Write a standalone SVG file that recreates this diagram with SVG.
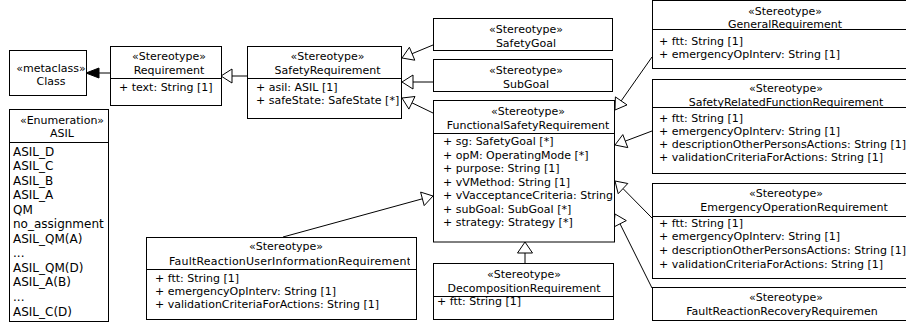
<svg xmlns="http://www.w3.org/2000/svg" width="906" height="324" viewBox="0 0 906 324">
<style>
text{font-family:"DejaVu Sans","Liberation Sans",sans-serif;font-size:11px;fill:#000}
.c{text-anchor:middle}
.lit{font-size:12px}
.box{fill:#fff;stroke:#000;stroke-width:1}
.sep{stroke:#000;stroke-width:1}
.ln{stroke:#000;stroke-width:1;fill:none}
.tri{fill:#fff;stroke:#000;stroke-width:1}
.fill{fill:#000;stroke:#000;stroke-width:1}
</style>
<defs>
<clipPath id="clipFRUIR"><rect x="146" y="237" width="264" height="33"/></clipPath>
</defs>
<rect x="0" y="0" width="906" height="324" fill="#fff"/>

<g id="connectors">
<line class="ln" x1="110" y1="73" x2="99" y2="73" stroke-width="2"/>
<polygon class="fill" points="86,73 99,68 99,78"/>
<line class="ln" x1="247" y1="76" x2="232" y2="76"/>
<polygon class="tri" points="221,76 232,69 232,83"/>
<line class="ln" x1="433" y1="45" x2="412.1" y2="53.7"/>
<polygon class="tri" points="402,58 414.8,60.2 409.4,47.3"/>
<line class="ln" x1="433" y1="82" x2="413" y2="82"/>
<polygon class="tri" points="402,82 413,75 413,89"/>
<line class="ln" x1="433" y1="113" x2="411.9" y2="102.8"/>
<polygon class="tri" points="402,98 408.9,109.1 415,96.5"/>
<line class="ln" x1="652" y1="57" x2="621.2" y2="100.9"/>
<polygon class="tri" points="615,110 627,104.9 615.4,96.9"/>
<line class="ln" x1="652" y1="131" x2="625.3" y2="141.1"/>
<polygon class="tri" points="615,145 627.8,147.6 622.8,134.6"/>
<line class="ln" x1="652" y1="218" x2="623" y2="188.6"/>
<polygon class="tri" points="615,181 618.2,193.7 627.8,183.5"/>
<line class="ln" x1="652" y1="288" x2="620" y2="223.8"/>
<polygon class="tri" points="615,214 613.8,227 626.3,220.6"/>
<line class="ln" x1="283" y1="237" x2="422.4" y2="198.8"/>
<polygon class="tri" points="433,196 420.6,192.1 424.2,205.6"/>
<line class="ln" x1="525" y1="263" x2="525" y2="253"/>
<polygon class="tri" points="525,242 517.5,253 532.5,253"/>
</g>

<g id="Class">
<rect class="box" x="9.5" y="50.5" width="77" height="45"/>
<text class="c" x="51" y="71.5">«metaclass»</text>
<text class="c" x="51" y="85">Class</text>
</g>

<g id="Requirement">
<rect class="box" x="110.5" y="46.5" width="111" height="59"/>
<line class="sep" x1="110.5" y1="78.5" x2="221.5" y2="78.5"/>
<text class="c" x="169" y="59.5">«Stereotype»</text>
<text class="c" x="169" y="73.5">Requirement</text>
<text x="119" y="91">+ text: String [1]</text>
</g>

<g id="ASIL">
<rect class="box" x="9.5" y="109.5" width="99" height="212"/>
<line class="sep" x1="9.5" y1="142.5" x2="108.5" y2="142.5"/>
<text class="c" x="62" y="123.5">«Enumeration»</text>
<text class="c" x="62" y="137">ASIL</text>
<text class="lit" x="13" y="155.5">ASIL_D</text>
<text class="lit" x="13" y="170">ASIL_C</text>
<text class="lit" x="13" y="184.5">ASIL_B</text>
<text class="lit" x="13" y="199">ASIL_A</text>
<text class="lit" x="13" y="213.5">QM</text>
<text class="lit" x="13" y="228">no_assignment</text>
<text class="lit" x="13" y="242.5">ASIL_QM(A)</text>
<text class="lit" x="13" y="257">...</text>
<text class="lit" x="13" y="271.5">ASIL_QM(D)</text>
<text class="lit" x="13" y="286">ASIL_A(B)</text>
<text class="lit" x="13" y="300.5">...</text>
<text class="lit" x="13" y="315.5">ASIL_C(D)</text>
</g>

<g id="SafetyRequirement">
<rect class="box" x="247.5" y="46.5" width="154" height="72"/>
<line class="sep" x1="247.5" y1="78.5" x2="401.5" y2="78.5"/>
<text class="c" x="327.5" y="59.5">«Stereotype»</text>
<text class="c" x="327.5" y="73.5">SafetyRequirement</text>
<text x="256" y="90.5">+ asil: ASIL [1]</text>
<text x="256" y="103.5">+ safeState: SafeState [*]</text>
</g>

<g id="SafetyGoal">
<rect class="box" x="433.5" y="18.5" width="179" height="32"/>
<text class="c" x="526" y="32.5">«Stereotype»</text>
<text class="c" x="526" y="46.5">SafetyGoal</text>
</g>

<g id="SubGoal">
<rect class="box" x="433.5" y="59.5" width="179" height="32"/>
<text class="c" x="526" y="73.5">«Stereotype»</text>
<text class="c" x="526" y="87.5">SubGoal</text>
</g>

<g id="FunctionalSafetyRequirement">
<rect class="box" x="433.5" y="100.5" width="181" height="141.5"/>
<line class="sep" x1="433.5" y1="133.5" x2="614.5" y2="133.5"/>
<text class="c" x="528" y="114.5">«Stereotype»</text>
<text class="c" x="528" y="128.5">FunctionalSafetyRequirement</text>
<text x="443" y="145">+ sg: SafetyGoal [*]</text>
<text x="443" y="158.5">+ opM: OperatingMode [*]</text>
<text x="443" y="172">+ purpose: String [1]</text>
<text x="443" y="185.5">+ vVMethod: String [1]</text>
<text x="443" y="199">+ vVacceptanceCriteria: String</text>
<text x="443" y="212.5">+ subGoal: SubGoal [*]</text>
<text x="443" y="226">+ strategy: Strategy [*]</text>
</g>

<g id="GeneralRequirement">
<rect class="box" x="652.5" y="0.5" width="260" height="68"/>
<line class="sep" x1="652.5" y1="29.5" x2="912" y2="29.5"/>
<text class="c" x="785" y="15">«Stereotype»</text>
<text class="c" x="785" y="27.5">GeneralRequirement</text>
<text x="659" y="45">+ ftt: String [1]</text>
<text x="659" y="58">+ emergencyOpInterv: String [1]</text>
</g>

<g id="SafetyRelatedFunctionRequirement">
<rect class="box" x="652.5" y="79.5" width="260" height="94"/>
<line class="sep" x1="652.5" y1="107.5" x2="912" y2="107.5"/>
<text class="c" x="786" y="92">«Stereotype»</text>
<text class="c" x="786" y="106">SafetyRelatedFunctionRequirement</text>
<text x="659" y="121.5">+ ftt: String [1]</text>
<text x="659" y="134.5">+ emergencyOpInterv: String [1]</text>
<text x="659" y="147.5">+ descriptionOtherPersonsActions: String [1]</text>
<text x="659" y="160.5">+ validationCriteriaForActions: String [1]</text>
</g>

<g id="EmergencyOperationRequirement">
<rect class="box" x="652.5" y="183.5" width="260" height="95"/>
<line class="sep" x1="652.5" y1="216.5" x2="912" y2="216.5"/>
<text class="c" x="786" y="197">«Stereotype»</text>
<text class="c" x="794" y="210.5">EmergencyOperationRequirement</text>
<text x="659" y="226.5">+ ftt: String [1]</text>
<text x="659" y="240">+ emergencyOpInterv: String [1]</text>
<text x="659" y="254">+ descriptionOtherPersonsActions: String [1]</text>
<text x="659" y="267.5">+ validationCriteriaForActions: String [1]</text>
</g>

<g id="FaultReactionRecoveryRequirement">
<rect class="box" x="652.5" y="287.5" width="260" height="33"/>
<text class="c" x="786" y="301">«Stereotype»</text>
<text class="c" x="782" y="315">FaultReactionRecoveryRequiremen</text>
</g>

<g id="FaultReactionUserInformationRequirement">
<rect class="box" x="146.5" y="237.5" width="270" height="82"/>
<line class="sep" x1="146.5" y1="269.5" x2="416.5" y2="269.5"/>
<text class="c" x="286" y="250">«Stereotype»</text>
<text x="169" y="265" clip-path="url(#clipFRUIR)" textLength="242" lengthAdjust="spacing">FaultReactionUserInformationRequirement</text>
<text x="155" y="281.5">+ ftt: String [1]</text>
<text x="155" y="295">+ emergencyOpInterv: String [1]</text>
<text x="155" y="307.5">+ validationCriteriaForActions: String [1]</text>
</g>

<g id="DecompositionRequirement">
<rect class="box" x="433.5" y="263.5" width="180" height="56"/>
<line class="sep" x1="433.5" y1="296.5" x2="613.5" y2="296.5"/>
<text class="c" x="524" y="278">«Stereotype»</text>
<text class="c" x="524" y="292">DecompositionRequirement</text>
<text x="437" y="305">+ ftt: String [1]</text>
</g>
</svg>
